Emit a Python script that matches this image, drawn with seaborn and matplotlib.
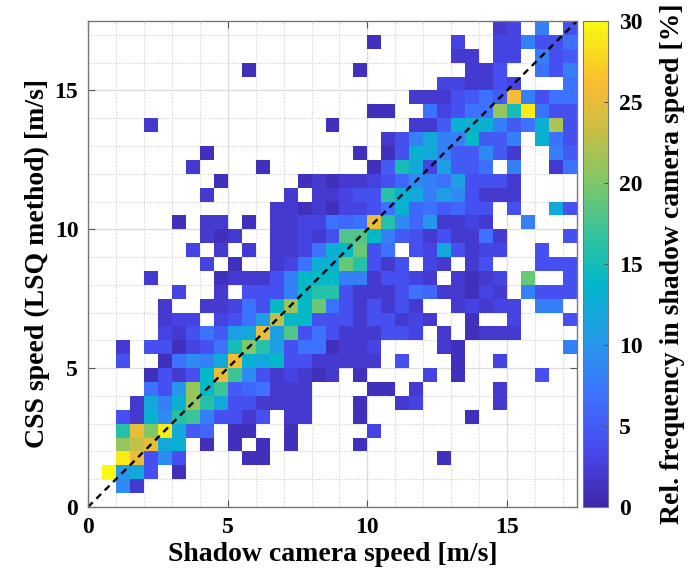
import numpy as np
import pandas as pd
import matplotlib
matplotlib.use("Agg")
import matplotlib.pyplot as plt
import seaborn as sns
from matplotlib.colors import LinearSegmentedColormap

# ---------------- data ----------------
bin_width = 0.5          # m/s per cell
# relative frequency [%] per cell; rows from top (CSS 17-17.5 m/s) to bottom (0-0.5 m/s),
# columns = shadow camera speed bins 0-0.5 ... 17-17.5 m/s (groups of 5 columns)
# '.' = no data, 0-9 -> value, a..z -> 10..35 (base 36)
rel_freq_rows = [
    "..... ..... ..... ..... ..... ....2 3.8.4",
    "..... ..... ..... ..... 1.... .3..3 38447",
    "..... ..... ..... ..... ..... .22.3 3.845",
    "..... ..... .1... ....1 ..... ..224 ..748",
    "..... ..... ..... ..... ..... 33224 3...7",
    "..... ..... ..... ..... ...22 24575 q8477",
    "..... ..... ..... ..... 11..7 3477l ft744",
    "....2 ..... ..... ..1.. ...22 5ddd8 57dm4",
    "..... ..... ..... ..... .248c 88e55 8.d74",
    "..... ...1. ..... ....1 .14dc 85595 2..85",
    "..... ..2.. ..1.. ..... 15fc3 b557. 8..27",
    "..... ....1 ..... 12122 34698 7b444 2....",
    "..... ...2. ....2 .2234 4gdc8 b9422 2....",
    "..... ..... ...22 12133 47d67 5644. 4..c4",
    "..... .1.22 .1.22 33767 pg96a 2232. .8...",
    "..... ...21 2..22 324ii e8542 42272 ....4",
    "..... ..3.2 .2.22 37dej 47.43 c4233 ..4..",
    "..... ...3. 1..23 7ddjg 424.3 2.24. ..444",
    "....2 ....1 22248 eee88 24432 .2123 .j..4",
    "..... .3..2 .4448 egg42 22476 22132 .8444",
    "..... 2..22 374el ej742 4242. .2323 3.88.",
    "..... 233.3 47bne e4442 44232 ..1.. 3...4",
    "..... 32475 bcpbi 47422 2443. 2.122 2....",
    "..2.4 41347 fkgb4 77122 3.... 21... ....8",
    "..4.. 1798c qdce4 42222 2.4.. .1..3 .....",
    "....1 424ep h9423 212.1 ....3 .1... ..4..",
    "....7 4aleh 56722 2.... 11.2. ....2 .....",
    "...2c 8dlgc 44222 2...1 ..23. ....2 .....",
    "..42d 9gh84 424.2 2...1 ..... ..1.. .....",
    "..gpk tc56. 11..1 ..... 3.... ..... .....",
    "..lnp cd.1. 1.1.1 ....1 ..... ..... .....",
    "..tp4 94... .11.. ..... ..... 1.... .....",
    ".zac4 .1... ..... ..... ..... ..... .....",
    "..92. ..... ..... ..... ..... ..... .....",
    "..... ..... ..... ..... ..... ..... .....",
]
axis_ticks = [0, 5, 10, 15]
cbar_ticks = [0, 5, 10, 15, 20, 25, 30]
x_label = "Shadow camera speed [m/s]"
y_label = "CSS speed (LSQ method) [m/s]"
c_label = "Rel. frequency in shadow camera speed [%]"


def decode(ch):
    return np.nan if ch == "." else float(int(ch, 36))


rows = [r.replace(" ", "") for r in rel_freq_rows]
for r in rows:
    assert len(r) == 35, (len(r), r)
grid = np.array([[decode(c) for c in r] for r in rows])[::-1]   # bottom row first
n_rows, n_cols = grid.shape
df = pd.DataFrame(grid,
                  index=np.arange(n_rows) * bin_width,
                  columns=np.arange(n_cols) * bin_width)

# ---------------- parula colormap ----------------
parula_pts = [
    (0.2422, 0.1504, 0.6603), (0.2803, 0.2782, 0.9221), (0.2440, 0.4358, 0.9988),
    (0.1540, 0.5902, 0.9218), (0.0036, 0.7197, 0.7913), (0.1938, 0.7661, 0.6227),
    (0.4953, 0.7834, 0.4096), (0.7880, 0.7493, 0.2743), (0.9840, 0.7364, 0.1881),
    (0.9763, 0.9831, 0.0538),
]
parula_pos = [0, 7/63, 14/63, 21/63, 29/63, 35/63, 42/63, 49/63, 55/63, 1.0]
parula = LinearSegmentedColormap.from_list("parula", list(zip(parula_pos, parula_pts)), N=256)

# ---------------- figure ----------------
plt.rcParams["font.family"] = ["Liberation Serif", "DejaVu Serif"]
plt.rcParams["font.weight"] = "bold"
plt.rcParams["axes.labelweight"] = "bold"

W, H = 692, 581
fig = plt.figure(figsize=(W / 100, H / 100), dpi=100)
ax = fig.add_axes([88 / W, 1 - 507 / H, (577 - 88) / W, (507 - 21) / H])
cax = fig.add_axes([583 / W, 1 - 507 / H, 25 / W, (507 - 21) / H])

sns.heatmap(df, ax=ax, cbar_ax=cax, cmap=parula, vmin=0, vmax=30,
            xticklabels=False, yticklabels=False, linewidths=0,
            cbar_kws={"ticks": cbar_ticks})
ax.set_ylim(0, n_rows)
ax.set_xlim(0, n_cols)
ax.set_axisbelow(True)

# ticks in data units -> cell units
ax.set_xticks([v / bin_width for v in axis_ticks])
ax.set_xticklabels([str(v) for v in axis_ticks])
ax.set_yticks([v / bin_width for v in axis_ticks])
ax.set_yticklabels([str(v) for v in axis_ticks])
minor = [v / bin_width for v in range(0, int(n_cols * bin_width) + 1)]
ax.set_xticks(minor, minor=True)
ax.set_yticks(minor, minor=True)
ax.grid(which="major", color="#dcdcdc", lw=0.9, ls="-")
ax.grid(which="minor", color="#d0d0d0", lw=0.8, ls=(0, (1, 1.5)))
ax.tick_params(which="major", direction="in", length=5, width=0.8, color="#555555",
               top=True, right=True, labelsize=17, pad=7)
ax.tick_params(which="minor", length=0)
for lab in ax.get_xticklabels() + ax.get_yticklabels():
    lab.set_fontweight("bold")
for s in ax.spines.values():
    s.set_visible(True)
    s.set_color("#777777")
    s.set_linewidth(1.0)

# diagonal reference line
ax.plot([0, n_cols], [0, n_rows], color="black", lw=1.7, ls=(0, (2.8, 2.2)))

ax.set_xlabel(x_label, fontsize=20, fontweight="bold", labelpad=3)
ax.set_ylabel(y_label, fontsize=20, fontweight="bold", labelpad=3)

# colorbar
cbar = ax.collections[0].colorbar
cbar.outline.set_edgecolor("#777777")
cbar.outline.set_linewidth(0.8)
cax.tick_params(direction="in", length=3, width=0.8, color="#555555", labelsize=17, pad=8)
for lab in cax.get_yticklabels():
    lab.set_fontweight("bold")
cax.set_ylabel(c_label, fontsize=20, fontweight="bold", labelpad=12)

fig.savefig("out.png", dpi=100)
